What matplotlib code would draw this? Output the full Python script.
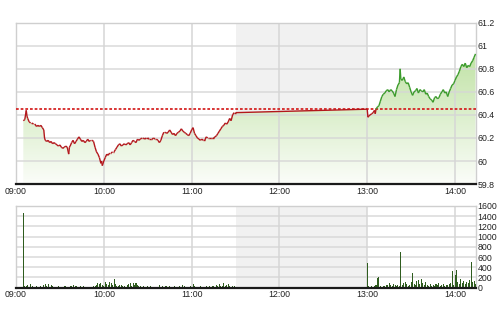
import numpy as np
import matplotlib
matplotlib.use("Agg")
import matplotlib.pyplot as plt
from matplotlib.collections import LineCollection
from matplotlib.colors import LinearSegmentedColormap

# ---------------- data ----------------
# minutes since 09:00
am_time = [5, 6, 7, 7.5, 8, 9, 10, 11, 12, 13, 14, 15, 16, 17, 18, 19, 19.5, 20, 21, 22, 23, 24, 25, 26, 27, 28,
           29, 30, 31, 32, 33, 34, 35, 36, 36.5, 37, 38, 39, 40, 41, 42, 43, 44, 45, 46, 47, 48, 49, 50, 51, 52,
           53, 54, 55, 56, 57, 58, 58.5, 59, 60, 61, 62, 63, 64, 65, 66, 67, 68, 69, 70, 71, 72, 73, 74, 75, 76,
           77, 78, 79, 80, 81, 82, 83, 84, 85, 86, 87, 88, 89, 90, 91, 92, 93, 94, 95, 96, 97, 98, 99, 100, 101,
           102, 103, 104, 105, 106, 107, 108, 109, 110, 111, 112, 113, 114, 115, 116, 117, 118, 119, 120, 121,
           122, 123, 124, 125, 126, 127, 128, 129, 130, 131, 132, 133, 134, 135, 136, 137, 138, 139, 140, 141,
           142, 143, 144, 145, 146, 147, 148, 149, 150]
am_price = [60.35, 60.36, 60.44, 60.39, 60.37, 60.34, 60.33, 60.33, 60.32, 60.32, 60.30, 60.31, 60.30, 60.31,
            60.29, 60.27, 60.20, 60.18, 60.17, 60.18, 60.16, 60.17, 60.15, 60.16, 60.15, 60.14, 60.13, 60.14,
            60.12, 60.11, 60.12, 60.13, 60.12, 60.06, 60.12, 60.13, 60.16, 60.18, 60.15, 60.17, 60.19, 60.21,
            60.19, 60.17, 60.18, 60.16, 60.17, 60.19, 60.17, 60.18, 60.18, 60.17, 60.12, 60.08, 60.06, 60.03,
            59.98, 60.00, 59.96, 60.00, 60.03, 60.06, 60.05, 60.07, 60.07, 60.08, 60.08, 60.10, 60.12, 60.14,
            60.15, 60.13, 60.14, 60.15, 60.14, 60.15, 60.16, 60.14, 60.16, 60.18, 60.17, 60.16, 60.19, 60.18,
            60.19, 60.20, 60.20, 60.19, 60.20, 60.20, 60.19, 60.19, 60.19, 60.20, 60.19, 60.19, 60.18, 60.16,
            60.18, 60.22, 60.25, 60.25, 60.24, 60.25, 60.27, 60.25, 60.23, 60.24, 60.22, 60.24, 60.25, 60.26,
            60.28, 60.26, 60.25, 60.24, 60.23, 60.22, 60.24, 60.27, 60.29, 60.24, 60.22, 60.20, 60.19, 60.18,
            60.19, 60.18, 60.18, 60.21, 60.20, 60.20, 60.20, 60.20, 60.20, 60.21, 60.22, 60.24, 60.26, 60.28,
            60.30, 60.31, 60.33, 60.32, 60.34, 60.37, 60.35, 60.40, 60.42, 60.42]
pm_time = [240, 240.5, 241, 242, 243, 244, 245, 245.5, 246, 247, 248, 249, 250, 251, 252, 253, 254, 255, 256,
           257, 258, 259, 260, 261, 262, 262.5, 263, 264, 265, 266, 267, 268, 269, 270, 271, 272, 273, 274, 275,
           276, 277, 278, 279, 280, 281, 282, 283, 284, 285, 286, 287, 288, 289, 290, 291, 292, 293, 294, 295,
           296, 297, 298, 299, 300, 301, 302, 303, 304, 305, 306, 307, 308, 309, 310, 311, 312, 313, 314]
pm_price = [60.45, 60.38, 60.39, 60.40, 60.41, 60.42, 60.44, 60.41, 60.45, 60.47, 60.48, 60.52, 60.56, 60.58,
            60.59, 60.61, 60.62, 60.60, 60.62, 60.61, 60.59, 60.56, 60.62, 60.66, 60.68, 60.80, 60.71, 60.70,
            60.73, 60.69, 60.67, 60.68, 60.64, 60.60, 60.57, 60.60, 60.61, 60.63, 60.59, 60.62, 60.61, 60.60,
            60.62, 60.58, 60.59, 60.56, 60.54, 60.53, 60.51, 60.55, 60.56, 60.54, 60.55, 60.58, 60.60, 60.62,
            60.59, 60.60, 60.56, 60.60, 60.63, 60.66, 60.67, 60.70, 60.73, 60.75, 60.78, 60.82, 60.84, 60.82,
            60.85, 60.81, 60.83, 60.82, 60.85, 60.87, 60.90, 60.93]
ref_price = 60.45

am_vol_time = list(range(5, 150))
am_volume = [1470, 40, 30, 60, 20, 70, 30, 20, 10, 40, 20, 10, 30, 20, 60, 70, 40, 80, 20, 60, 30, 10, 20, 10,
             30, 20, 10, 20, 40, 30, 20, 10, 40, 30, 50, 20, 30, 20, 10, 40, 20, 30, 10, 20, 10, 20, 10, 20, 40,
             30, 60, 100, 70, 90, 60, 40, 110, 80, 60, 120, 90, 50, 170, 70, 40, 30, 60, 50, 30, 40, 20, 60, 80,
             100, 40, 90, 50, 100, 60, 30, 40, 20, 30, 20, 10, 30, 20, 40, 20, 10, 20, 10, 20, 60, 20, 30, 20,
             40, 30, 20, 30, 10, 20, 30, 20, 10, 20, 30, 20, 60, 30, 20, 10, 20, 30, 20, 70, 30, 20, 10, 20, 30,
             20, 10, 20, 30, 20, 30, 20, 40, 30, 20, 50, 30, 80, 40, 30, 90, 40, 60, 70, 30, 20, 40, 30]
pm_vol_time = list(range(240, 315))
pm_volume = [490, 30, 20, 30, 20, 40, 50, 180, 200, 30, 20, 40, 30, 60, 50, 90, 60, 40, 70, 50, 30, 60, 40,
             700, 60, 100, 120, 80, 40, 60, 110, 290, 80, 60, 130, 150, 70, 160, 90, 60, 120, 50, 40, 70, 30,
             60, 40, 80, 50, 100, 40, 60, 80, 40, 60, 50, 70, 100, 320, 60, 250, 340, 120, 80, 160, 100, 130,
             80, 120, 90, 150, 510, 110, 140, 80]

hour_labels = ["09:00", "10:00", "11:00", "12:00", "13:00", "14:00"]
price_ticks = [59.8, 60, 60.2, 60.4, 60.6, 60.8, 61, 61.2]
price_tick_labels = ["59.8", "60", "60.2", "60.4", "60.6", "60.8", "61", "61.2"]
vol_ticks = [0, 200, 400, 600, 800, 1000, 1200, 1400, 1600]

# ---------------- style ----------------
plt.rcParams['font.family'] = ['Liberation Sans', 'DejaVu Sans']
GRID = "#d6d6d6"
LUNCH = "#f1f1f1"
TXT = "#222222"
FS = 6.3

fig = plt.figure(figsize=(5.0, 3.12), dpi=100)
ax1 = fig.add_axes([0.032, 0.410, 0.919, 0.517])
ax2 = fig.add_axes([0.032, 0.078, 0.919, 0.262])

x_min, x_max = 0, 314
hour_pos = [0, 60, 120, 180, 240, 300]

def style(ax, ylo, yhi, ticks, labels):
    ax.set_xlim(x_min, x_max)
    ax.set_ylim(ylo, yhi)
    ax.axvspan(150, 240, color=LUNCH, zorder=0, lw=0)
    for h in hour_pos:
        ax.axvline(h, color=GRID, lw=1.1, zorder=2.5)
    for t in ticks:
        ax.axhline(t, color=GRID, lw=1.1, zorder=2.5, alpha=0.9)
    ax.set_xticks(hour_pos)
    ax.set_xticklabels(hour_labels, fontsize=FS, color=TXT)
    ax.set_yticks(ticks)
    ax.set_yticklabels(labels, fontsize=FS, color=TXT)
    ax.yaxis.tick_right()
    ax.tick_params(axis='y', length=0, pad=1.5)
    ax.tick_params(axis='x', length=0, pad=2)
    for s in ("left", "top", "right"):
        ax.spines[s].set_color("#cfcfcf")
        ax.spines[s].set_linewidth(1)
    ax.spines["bottom"].set_color("#1a1a1a")
    ax.spines["bottom"].set_linewidth(1.6)
    ax.spines["bottom"].set_zorder(5)
    ax.set_facecolor("white")

style(ax1, 59.8, 61.2, price_ticks, price_tick_labels)
style(ax2, 0, 1600, vol_ticks, [str(v) for v in vol_ticks])

# ---- price line + gradient fill ----
t_all = np.array(am_time + pm_time, dtype=float)
p_all = np.array(am_price + pm_price, dtype=float)

cmap = LinearSegmentedColormap.from_list("g", ["#fbfdf9", "#b3dc92"])
grad = np.linspace(0, 1, 256).reshape(-1, 1)
img = ax1.imshow(grad, extent=[x_min, x_max, 59.8, 61.2], origin="lower", aspect="auto",
                 cmap=cmap, zorder=2)
poly_x = np.concatenate([[t_all[0]], t_all, [t_all[-1]]])
poly_y = np.concatenate([[59.8], p_all, [59.8]])
clip = plt.Polygon(np.column_stack([poly_x, poly_y]), closed=True, transform=ax1.transData,
                   facecolor="none", edgecolor="none")
ax1.add_patch(clip)
img.set_clip_path(clip)

pts = np.column_stack([t_all, p_all])
segs = np.stack([pts[:-1], pts[1:]], axis=1)
cols = ["#3b9b2b" if (a >= ref_price - 0.005 and b >= ref_price - 0.005) else "#b3171c"
        for a, b in zip(p_all[:-1], p_all[1:])]
ax1.add_collection(LineCollection(segs, colors=cols, linewidths=1.0, zorder=4))

ax1.axhline(ref_price, color="#d42020", lw=1.4, ls=(0, (1.4, 1.0)), zorder=3, alpha=0.9)

# ---- volume ----
ax2.bar(am_vol_time, am_volume, width=0.7, color="#2f5d1f", zorder=3, lw=0)
ax2.bar(pm_vol_time, pm_volume, width=0.7, color="#2f5d1f", zorder=3, lw=0)

fig.savefig("out.png", dpi=100, facecolor="white")
